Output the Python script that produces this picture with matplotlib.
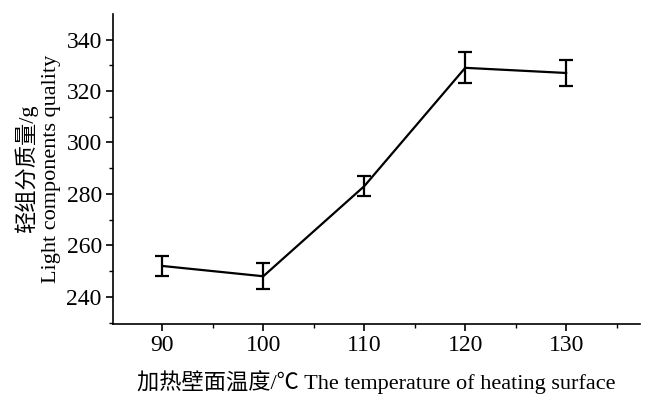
import numpy as np
from matplotlib import pyplot as plt

# data
temperature = [90, 100, 110, 120, 130]
quality = [252, 248, 283, 329, 327]
quality_err = [4, 5, 4, 6, 5]

xticks = [90, 100, 110, 120, 130]
yticks = [240, 260, 280, 300, 320, 340]

plt.rcParams['font.family'] = ['Liberation Serif', 'Noto Sans CJK SC']

fig = plt.figure(figsize=(6.45, 3.94), dpi=100)
ax = fig.add_axes([0.175, 0.178, 0.817, 0.787])

ax.errorbar(temperature, quality, yerr=quality_err, color='black', linewidth=1.6,
            elinewidth=1.6, capsize=5, capthick=1.6)

ax.set_xlim(85.1, 137.3)
ax.set_ylim(229.5, 350)
ax.set_xticks(xticks)
ax.set_yticks(yticks)
ax.set_xticks(np.arange(95, 136, 10), minor=True)
ax.set_yticks(np.arange(230, 350, 20), minor=True)

for s in ['top', 'right']:
    ax.spines[s].set_visible(False)
for s in ['left', 'bottom']:
    ax.spines[s].set_linewidth(1.2)

ax.tick_params(axis='both', which='major', direction='out', length=5, width=1.2, labelsize=17, pad=3)
ax.tick_params(axis='both', which='minor', direction='out', length=3, width=1.0)

ax.set_ylabel('轻组分质量/g\nLight components quality', fontsize=16, linespacing=1.3, labelpad=4)
ax.set_xlabel('加热壁面温度/℃ The temperature of heating surface', fontsize=16, labelpad=10)

fig.savefig('out.png', dpi=100)
